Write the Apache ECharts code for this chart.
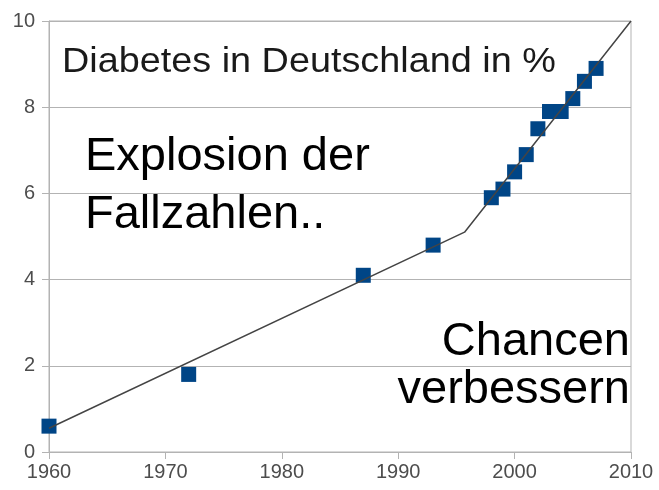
<!DOCTYPE html>
<html>
<head>
<meta charset="utf-8">
<title>Diabetes in Deutschland</title>
<script src="https://cdn.jsdelivr.net/npm/echarts@6/dist/echarts.min.js"></script>
<style>
  html, body { margin: 0; padding: 0; background: #fff; }
  #chart { width: 659px; height: 490px; }
</style>
</head>
<body>
<div id="chart"></div>
<script>
// Messwerte (Jahr, Anteil in %)
var years = [1960, 1972, 1987, 1993, 1998, 1999, 2000, 2001, 2002, 2003, 2004, 2005, 2006, 2007];
var rates = [0.6, 1.8, 4.1, 4.8, 5.9, 6.1, 6.5, 6.9, 7.5, 7.9, 7.9, 8.2, 8.6, 8.9];

// Trendlinie
var trendYears = [1960, 1995.7, 2010];
var trendValues = [0.55, 5.1, 10];

var xTicks = [1960, 1970, 1980, 1990, 2000, 2010];
var yTicks = [0, 2, 4, 6, 8, 10];

var chart = echarts.init(document.getElementById("chart"));

let points = years.map(function(y, i) {
  return [y, rates[i]];
});
let trend = trendYears.map(function(y, i) {
  return [y, trendValues[i]];
});

let axisFont = {
  fontSize: 20,
  fontFamily: "Liberation Sans",
  color: "#4d4d4d"
};

let option = {
  backgroundColor: "#fff",
  animation: false,
  grid: {
    left: 49,
    right: 28,
    top: 21,
    bottom: 38,
    show: true,
    borderColor: "#b3b3b3",
    borderWidth: 1
  },
  xAxis: {
    type: "value",
    min: xTicks[0],
    max: xTicks[xTicks.length - 1],
    interval: 10,
    axisLine: { lineStyle: { color: "#b3b3b3" } },
    axisTick: { show: true, inside: false, length: 7, lineStyle: { color: "#b3b3b3" } },
    axisLabel: Object.assign(
      {
        margin: 10,
        formatter: function(v) {
          return String(v);
        }
      },
      axisFont
    ),
    splitLine: { show: false }
  },
  yAxis: {
    type: "value",
    min: yTicks[0],
    max: yTicks[yTicks.length - 1],
    interval: 2,
    axisLine: { show: true, lineStyle: { color: "#b3b3b3" } },
    axisTick: { show: true, inside: false, length: 7, lineStyle: { color: "#b3b3b3" } },
    axisLabel: Object.assign({ margin: 14 }, axisFont),
    splitLine: { show: true, lineStyle: { color: "#b3b3b3", width: 1 } }
  },
  series: [
    {
      name: "Diabetes",
      type: "scatter",
      symbol: "rect",
      symbolSize: 15,
      itemStyle: { color: "#004586", opacity: 1 },
      data: points
    },
    {
      name: "Trend",
      type: "line",
      symbol: "none",
      lineStyle: { color: "#444", width: 1.5 },
      data: trend
    }
  ],
  graphic: [
    {
      type: "text",
      x: 62,
      y: 45,
      scaleX: 1.08,
      style: {
        text: "Diabetes in Deutschland in %",
        font: "35px 'Liberation Sans'",
        fill: "#1a1a1a",
        align: "left",
        verticalAlign: "top"
      }
    },
    {
      type: "text",
      left: 85,
      top: 134,
      style: {
        text: "Explosion der",
        font: "47px 'Liberation Sans'",
        fill: "#000"
      }
    },
    {
      type: "text",
      left: 85,
      top: 192,
      style: {
        text: "Fallzahlen..",
        font: "47px 'Liberation Sans'",
        fill: "#000"
      }
    },
    {
      type: "text",
      right: 29,
      top: 319,
      style: {
        text: "Chancen",
        font: "47px 'Liberation Sans'",
        fill: "#000"
      }
    },
    {
      type: "text",
      right: 29,
      top: 367,
      style: {
        text: "verbessern",
        font: "47px 'Liberation Sans'",
        fill: "#000"
      }
    }
  ]
};

chart.setOption(option);
</script>
</body>
</html>
